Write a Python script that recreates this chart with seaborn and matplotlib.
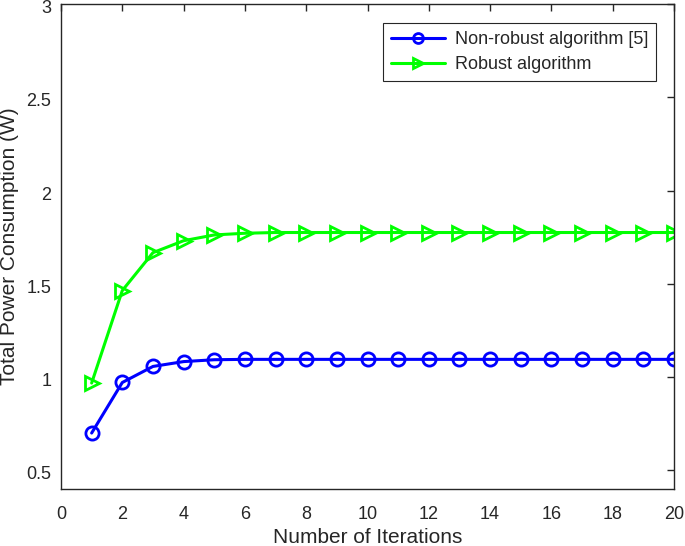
import matplotlib
matplotlib.use("Agg")
import matplotlib.pyplot as plt
import matplotlib.transforms as mtransforms
import seaborn as sns
import pandas as pd

iterations = list(range(1, 21))
non_robust = [0.70, 0.971, 1.057, 1.083, 1.093, 1.095, 1.095, 1.095, 1.095, 1.095,
              1.095, 1.095, 1.095, 1.095, 1.095, 1.095, 1.095, 1.095, 1.095, 1.095]
robust = [0.968, 1.464, 1.667, 1.731, 1.762, 1.771, 1.775, 1.775, 1.775, 1.775,
          1.775, 1.775, 1.775, 1.775, 1.775, 1.775, 1.775, 1.775, 1.775, 1.775]
labels = ["Non-robust algorithm [5]", "Robust algorithm"]
xticks = list(range(0, 21, 2))
yticks = [0.5, 1, 1.5, 2, 2.5, 3]
ytick_labels = ["0.5", "1", "1.5", "2", "2.5", "3"]

sns.set_theme(style="white")
plt.rcParams['font.family'] = ['Liberation Sans', 'DejaVu Sans']

fig = plt.figure(figsize=(6.85, 5.46), dpi=100)
ax = fig.add_axes([61 / 685, 1 - 489 / 546, 613 / 685, 485 / 546])

df1 = pd.DataFrame({"x": iterations, "y": non_robust})
df2 = pd.DataFrame({"x": iterations, "y": robust})
sns.lineplot(data=df1, x="x", y="y", ax=ax, color=(0, 0, 1), lw=2.2,
             marker="o", markersize=9.5, markerfacecolor="none",
             markeredgecolor=(0, 0, 1), markeredgewidth=2, label=labels[0])
sns.lineplot(data=df2, x="x", y="y", ax=ax, color=(0, 1, 0), lw=2.2,
             marker=">", markersize=10.5, markerfacecolor="none",
             markeredgecolor=(0, 1, 0), markeredgewidth=2, label=labels[1])

ax.set_xlim(0, 20)
ax.set_ylim(0.4, 3)
ax.set_xticks(xticks)
ax.set_xticklabels([str(t) for t in xticks])
ax.set_yticks(yticks)
ax.set_yticklabels(ytick_labels)
ax.set_xlabel("Number of Iterations", fontsize=15, color="#262626", labelpad=3.5)
ax.set_ylabel("Total Power Consumption (W)", fontsize=15, color="#262626", labelpad=5)
ax.tick_params(direction="in", length=5, width=1, colors="#262626",
               labelsize=13, top=True, right=True)
ax.tick_params(axis="x", pad=12)
ax.tick_params(axis="y", pad=7)
offset = mtransforms.ScaledTranslation(0, -2.5 / 100, fig.dpi_scale_trans)
for lab in ax.get_yticklabels():
    lab.set_transform(lab.get_transform() + offset)
for s in ax.spines.values():
    s.set_color("#262626")
    s.set_linewidth(1)

leg = ax.legend(loc="upper right", fontsize=13, frameon=True, fancybox=False,
                edgecolor="#262626", framealpha=1, borderpad=0.45,
                borderaxespad=0,
                handlelength=3.0, handletextpad=0.5, labelspacing=0.45,
                markerscale=0.75, bbox_to_anchor=(1 - 18 / 613, 1 - 19 / 485))
leg.get_frame().set_linewidth(0.8)

fig.savefig("out.png", dpi=100)
